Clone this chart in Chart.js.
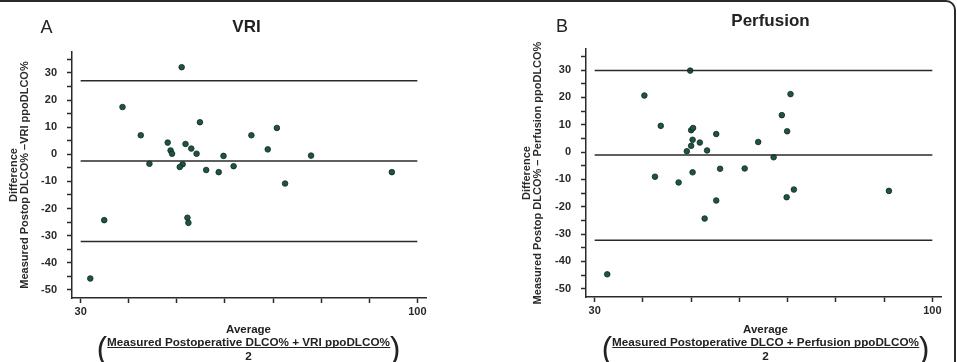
<!DOCTYPE html>
<html>
<head>
<meta charset="utf-8">
<script src="https://cdn.jsdelivr.net/npm/chart.js@4.4.1/dist/chart.umd.min.js"></script>
<style>
  body { margin: 0; background: #fff; }
  #wrap { position: relative; width: 957px; height: 362px; overflow: hidden;
          font-family: "Liberation Sans", Arial, sans-serif; color: #222; }
  canvas { position: absolute; top: 0; }
  #frame { position: absolute; left: -10px; top: 0; width: 966px; height: 400px;
           border: 2px solid #2b2b2b; border-radius: 0 10px 0 0; box-sizing: border-box; }
  .lbl { position: absolute; white-space: nowrap; transform: translate(-50%, -50%); }
  .letter { font-size: 18px; }
  .ttl { font-size: 17px; font-weight: bold; }
  .avg { font-size: 11.5px; font-weight: bold; }
  .frac { position: absolute; top: 333px; transform: translateX(-50%); display: flex;
          align-items: flex-start; font-weight: bold; font-size: 11.7px; white-space: nowrap; }
  .paren { font-size: 31px; font-weight: normal; line-height: 30px; margin-top: 1px; }
  .num { border-bottom: 1.5px solid #222; line-height: 11px; padding-top: 3px; }
  .den { text-align: center; line-height: 13px; padding-top: 1px; }
</style>
</head>
<body>
<div id="wrap">
  <canvas id="chartA" width="478" height="362" style="left:0"></canvas>
  <canvas id="chartB" width="479" height="362" style="left:478px"></canvas>
  <div id="frame"></div>

  <div class="lbl letter" style="left:46.5px; top:26.5px">A</div>
  <div class="lbl ttl" style="left:246.5px; top:27px">VRI</div>
  <div class="lbl avg" style="left:248.5px; top:328.5px">Average</div>
  <div class="frac" style="left:248.5px">
    <span class="paren">(</span>
    <div><div class="num">Measured Postoperative DLCO% + VRI ppoDLCO%</div><div class="den">2</div></div>
    <span class="paren">)</span>
  </div>

  <div class="lbl letter" style="left:562px; top:25.5px">B</div>
  <div class="lbl ttl" style="left:770.5px; top:20.5px">Perfusion</div>
  <div class="lbl avg" style="left:765.5px; top:328.5px">Average</div>
  <div class="frac" style="left:765.5px">
    <span class="paren">(</span>
    <div><div class="num">Measured Postoperative DLCO + Perfusion ppoDLCO%</div><div class="den">2</div></div>
    <span class="paren">)</span>
  </div>
</div>

<script>
// axis ticks
const xTicks = [30, 40, 50, 60, 70, 80, 90, 100];
const xTickLabels = [30, 100];
const yTicks = [35, 30, 25, 20, 15, 10, 5, 0, -5, -10, -15, -20, -25, -30, -35, -40, -45, -50];
const yTickLabels = [30, 20, 10, 0, -10, -20, -30, -40, -50];
const lineSpan = [30, 100];

// A: VRI
const vriAverage = [51.0, 38.7, 42.5, 54.8, 65.5, 70.8, 68.9, 77.9, 48.1, 48.7, 49.0, 51.8, 53.0, 54.1,
  59.7, 44.3, 51.2, 50.6, 61.8, 56.1, 58.7, 94.7, 72.5, 34.9, 52.2, 52.4, 32.0];
const vriDifference = [32.1, 17.4, 7.0, 11.8, 7.0, 9.7, 1.8, -0.5, 4.3, 1.4, 0.2, 3.8, 2.1, 0.2,
  -0.6, -3.5, -3.7, -4.7, -4.4, -5.8, -6.6, -6.6, -10.8, -24.3, -23.4, -25.3, -45.8];
const vriLimits = [27.1, -2.5, -32.2]; // upper limit, mean, lower limit

// B: Perfusion
const perfAverage = [49.8, 40.3, 43.7, 50.0, 50.4, 50.3, 51.8, 50.0, 49.1, 53.3, 55.2, 63.9, 67.1, 68.8,
  70.6, 69.9, 42.5, 50.3, 56.0, 61.1, 47.4, 52.8, 55.2, 69.8, 71.3, 91.0, 32.6];
const perfDifference = [29.8, 20.7, 9.6, 8.0, 8.8, 4.5, 3.5, 2.3, 0.3, 0.6, 6.6, 3.7, -1.9, 13.5,
  21.2, 7.6, -9.0, -7.4, -6.1, -6.0, -11.1, -24.3, -17.7, -16.5, -13.7, -14.2, -44.7];
const perfLimits = [29.8, -1.1, -32.2];

const ink = '#2a2a2a';
const tickFont = { family: '"Liberation Sans", Arial, sans-serif', size: 11, weight: 'bold' };

function makePanel(id, avg, diff, limits, yTitle, cfg) {
  const datasets = limits.map(v => ({
    type: 'line',
    data: lineSpan.map(x => ({ x: x, y: v })),
    borderColor: ink,
    borderWidth: 1.5,
    pointRadius: 0,
    showLine: true
  }));
  datasets.push({
    type: 'scatter',
    data: avg.map((x, i) => ({ x: x, y: diff[i] })),
    backgroundColor: '#1f5444',
    borderColor: '#0e2a20',
    borderWidth: 0.8,
    pointRadius: 2.8
  });

  return new Chart(document.getElementById(id), {
    type: 'scatter',
    data: { datasets: datasets },
    options: {
      responsive: false,
      animation: false,
      layout: { padding: { top: cfg.top, right: cfg.right, left: 0, bottom: 0 } },
      plugins: { legend: { display: false }, tooltip: { enabled: false } },
      scales: {
        x: {
          type: 'linear',
          min: 28.2,
          max: 101.8,
          afterFit: s => { s.height = cfg.xHeight; },
          afterBuildTicks: s => { s.ticks = xTicks.map(v => ({ value: v })); },
          grid: { drawOnChartArea: false, drawTicks: true, tickLength: 5, tickWidth: 1.5, tickColor: ink },
          border: { display: true, color: ink, width: 1.5 },
          ticks: {
            autoSkip: false, maxRotation: 0, padding: 2, color: ink, font: tickFont,
            callback: v => xTickLabels.includes(v) ? String(v) : ''
          }
        },
        y: {
          type: 'linear',
          min: -53,
          max: 37.7,
          afterFit: s => { s.width = cfg.yWidth; },
          afterBuildTicks: s => { s.ticks = yTicks.map(v => ({ value: v })); },
          grid: { drawOnChartArea: false, drawTicks: true, tickLength: 5, tickWidth: 1.5, tickColor: ink },
          border: { display: true, color: ink, width: 1.5 },
          ticks: {
            autoSkip: false, padding: 10, color: ink, font: tickFont,
            callback: v => yTickLabels.includes(v) ? String(v) : ''
          },
          title: {
            display: true,
            text: yTitle,
            color: ink,
            padding: { top: cfg.titlePad, bottom: 0 },
            font: { family: '"Liberation Sans", Arial, sans-serif', size: 11, weight: 'bold', lineHeight: 1.05 }
          }
        }
      }
    }
  });
}

makePanel('chartA', vriAverage, vriDifference, vriLimits,
  ['Difference', 'Measured Postop DLCO% \u2013VRI ppoDLCO%'],
  { top: 52, right: 52, xHeight: 64, yWidth: 72, titlePad: 8 });

makePanel('chartB', perfAverage, perfDifference, perfLimits,
  ['Difference', 'Measured Postop DLCO% \u2013 Perfusion ppoDLCO%'],
  { top: 49, right: 16, xHeight: 65, yWidth: 108, titlePad: 43 });
</script>
</body>
</html>
